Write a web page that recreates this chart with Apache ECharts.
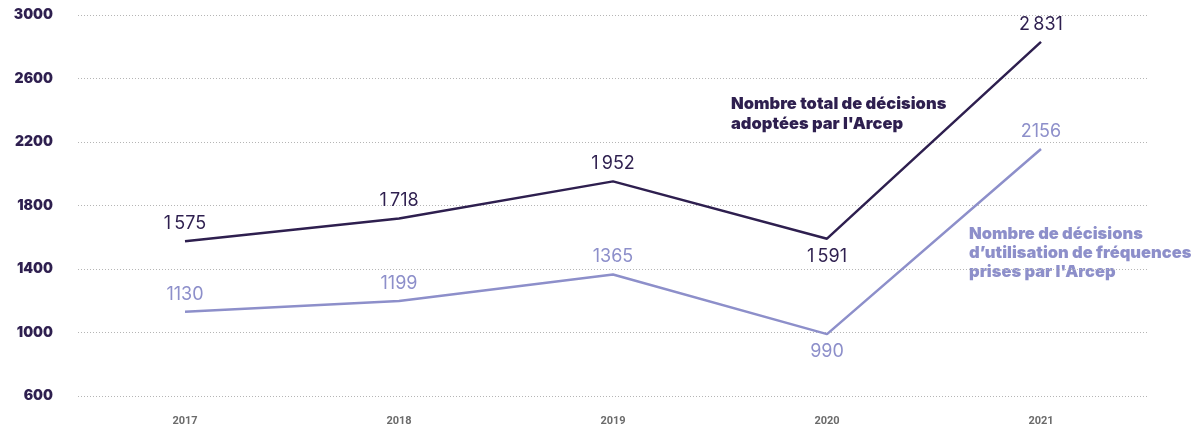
<!DOCTYPE html>
<html>
<head>
<meta charset="utf-8">
<script src="https://cdn.jsdelivr.net/npm/echarts@6/dist/echarts.min.js"></script>
<style>
  html, body { margin: 0; padding: 0; background: #fff; }
  #chart { width: 1195px; height: 431px; }
</style>
</head>
<body>
<div id="chart"></div>
<script>
// Years on the horizontal axis
const years = ['2017', '2018', '2019', '2020', '2021'];
// Total decisions adopted by Arcep
const totalDecisions = [1575, 1718, 1952, 1591, 2831];
// Frequency-use decisions
const frequencyDecisions = [1130, 1199, 1365, 990, 2156];
// Label placement per point (above / below the line)
const totalLabelPos = ['top', 'top', 'top', 'bottom', 'top'];
const freqLabelPos = ['top', 'top', 'top', 'bottom', 'top'];

const DARK = '#2e1f4f';
const LIGHT = '#8d8fca';

// Thousands separator is only used by the total series
function fmtSpaced(v) {
  return String(v).replace(/\B(?=(\d{3})+(?!\d))/g, '\u2009');
}
function fmtPlain(v) {
  return String(v);
}

function seriesData(values, positions) {
  return values.map((v, i) => ({
    value: v,
    label: { position: positions[i] }
  }));
}

function lineSeries(name, values, positions, color, formatter) {
  return {
    name: name,
    type: 'line',
    data: seriesData(values, positions),
    showSymbol: true,
    symbol: 'circle',
    symbolSize: 1,
    itemStyle: { color: 'rgba(0,0,0,0)' },
    lineStyle: { color: color, width: 2.5 },
    label: {
      show: true,
      color: color,
      fontFamily: 'Inter',
      fontWeight: 400,
      fontSize: 18,
      distance: 8,
      formatter: p => formatter(p.value)
    }
  };
}

const chart = echarts.init(document.getElementById('chart'));
chart.setOption({
  animation: false,
  grid: { left: 78, right: 47, top: 15, bottom: 35 },
  xAxis: {
    type: 'category',
    data: years,
    boundaryGap: true,
    axisLine: { show: false },
    axisTick: { show: false },
    axisLabel: {
      color: '#6b6b6b',
      fontFamily: 'Roboto',
      fontWeight: 'bold',
      fontSize: 11,
      margin: 20
    }
  },
  yAxis: {
    type: 'value',
    min: 600,
    max: 3000,
    interval: 400,
    axisLine: { show: false },
    axisTick: { show: false },
    splitLine: { lineStyle: { color: '#b5b5b5', type: [1, 2], width: 1 } },
    axisLabel: {
      color: DARK,
      fontFamily: 'Inter',
      fontWeight: 900,
      fontSize: 14,
      margin: 25,
      formatter: v => String(v)
    }
  },
  series: [
    lineSeries('Nombre total de décisions adoptées par l\'Arcep', totalDecisions, totalLabelPos, DARK, fmtSpaced),
    lineSeries('Nombre de décisions d\'utilisation de fréquences prises par l\'Arcep', frequencyDecisions, freqLabelPos, LIGHT, fmtPlain)
  ],
  graphic: [
    {
      type: 'text',
      left: 731,
      top: 94,
      style: {
        text: 'Nombre total de décisions\nadoptées par l\'Arcep',
        fill: DARK,
        font: '900 16.5px Inter',
        lineHeight: 20
      }
    },
    {
      type: 'text',
      left: 969,
      top: 225,
      style: {
        text: 'Nombre de décisions\nd\u2019utilisation de fréquences\nprises par l\'Arcep',
        fill: LIGHT,
        font: '900 16.5px Inter',
        lineHeight: 19
      }
    }
  ]
});
</script>
</body>
</html>
